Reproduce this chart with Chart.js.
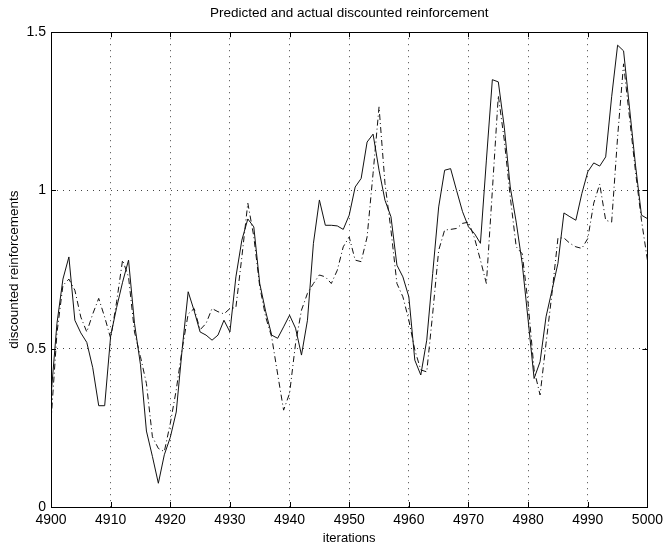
<!DOCTYPE html>
<html lang="en">
<head>
  <meta charset="UTF-8">
  <title>Predicted and actual discounted reinforcement</title>
  <script src="https://cdn.jsdelivr.net/npm/chart.js"></script>
  <style>
    body {
      background-color: #ffffff;
      margin: 0;
      padding: 0;
    }
    canvas { display: block; }
  </style>
</head>
<body>

<canvas id="reinfChart" width="668" height="550"></canvas>

<script>
  // iterations 4900..5000, one sample per iteration
  const firstIteration = 4900;
  const xTicks = [4900, 4910, 4920, 4930, 4940, 4950, 4960, 4970, 4980, 4990, 5000];
  const yTicks = [0, 0.5, 1, 1.5];

  // solid line
  const actual = [
    0.35, 0.58, 0.72, 0.79, 0.59, 0.55, 0.52, 0.44, 0.32, 0.32,
    0.54, 0.63, 0.71, 0.78, 0.58, 0.45, 0.24, 0.16, 0.075, 0.165,
    0.22, 0.30, 0.50, 0.68, 0.62, 0.553, 0.543, 0.527, 0.543, 0.59,
    0.553, 0.727, 0.843, 0.91, 0.885, 0.706, 0.617, 0.543, 0.533, 0.569,
    0.606, 0.565, 0.48, 0.59, 0.833, 0.97, 0.89, 0.89, 0.888, 0.877,
    0.922, 1.011, 1.038, 1.153, 1.178, 1.064, 0.969, 0.917, 0.764, 0.727,
    0.664, 0.464, 0.417, 0.527, 0.738, 0.948, 1.064, 1.069, 1.0, 0.933,
    0.885, 0.864, 0.833, 1.096, 1.35, 1.343, 1.2, 1.011, 0.9, 0.77,
    0.59, 0.406, 0.459, 0.601, 0.685, 0.77, 0.929, 0.917, 0.906, 0.99,
    1.059, 1.087, 1.077, 1.106, 1.296, 1.459, 1.441, 1.26, 1.08, 0.922,
    0.911
  ];

  // dash-dot line
  const predicted = [
    0.27, 0.55, 0.70, 0.72, 0.685, 0.60, 0.553, 0.61, 0.659, 0.60,
    0.533, 0.648, 0.78, 0.727, 0.553, 0.475, 0.39, 0.222, 0.185, 0.175,
    0.264, 0.37, 0.50, 0.61, 0.627, 0.56, 0.58, 0.627, 0.617, 0.61,
    0.627, 0.63, 0.79, 0.96, 0.855, 0.696, 0.60, 0.537, 0.42, 0.306,
    0.359, 0.516, 0.622, 0.675, 0.706, 0.733, 0.727, 0.706, 0.748, 0.822,
    0.853, 0.78, 0.775, 0.853, 1.054, 1.264, 1.022, 0.875, 0.706, 0.664,
    0.59, 0.496, 0.433, 0.427, 0.612, 0.811, 0.875, 0.877, 0.88, 0.896,
    0.9, 0.85, 0.78, 0.706, 1.0, 1.3, 1.159, 0.98, 0.822, 0.8,
    0.643, 0.433, 0.354, 0.517, 0.675, 0.85, 0.85, 0.833, 0.822, 0.817,
    0.848, 0.96, 1.02, 0.906, 0.9, 1.169, 1.4, 1.23, 1.06, 0.906,
    0.78
  ];

  const iterations = actual.map((_, i) => firstIteration + i);
  const toPoints = ys => ys.map((y, i) => ({ x: iterations[i], y }));

  const FONT = "'Liberation Sans', Arial, Helvetica, sans-serif";

  // matlab-like box with inward tick marks
  const framePlugin = {
    id: 'frame',
    afterDraw(chart) {
      const ctx = chart.ctx;
      const a = chart.chartArea;
      const xs = chart.scales.x, ys = chart.scales.y;
      const len = 5;
      ctx.save();
      ctx.strokeStyle = '#000';
      ctx.lineWidth = 1;
      ctx.strokeRect(Math.round(a.left) + 0.5, Math.round(a.top) + 0.5,
        Math.round(a.right - a.left), Math.round(a.bottom - a.top));
      ctx.beginPath();
      xTicks.forEach(v => {
        const px = Math.round(xs.getPixelForValue(v)) + 0.5;
        ctx.moveTo(px, a.bottom); ctx.lineTo(px, a.bottom - len);
        ctx.moveTo(px, a.top); ctx.lineTo(px, a.top + len);
      });
      yTicks.forEach(v => {
        const py = Math.round(ys.getPixelForValue(v)) + 0.5;
        ctx.moveTo(a.left, py); ctx.lineTo(a.left + len, py);
        ctx.moveTo(a.right, py); ctx.lineTo(a.right - len, py);
      });
      ctx.stroke();
      ctx.restore();
    }
  };

  new Chart(document.getElementById('reinfChart').getContext('2d'), {
    type: 'line',
    data: {
      datasets: [
        {
          label: 'actual',
          data: toPoints(actual),
          borderColor: '#111',
          borderWidth: 1,
          pointRadius: 0,
          tension: 0
        },
        {
          label: 'predicted',
          data: toPoints(predicted),
          borderColor: '#111',
          borderWidth: 1,
          borderDash: [6, 3, 1, 3],
          pointRadius: 0,
          tension: 0
        }
      ]
    },
    options: {
      responsive: false,
      animation: false,
      layout: { padding: { left: 0, right: 17, top: 0, bottom: 0 } },
      plugins: {
        legend: { display: false },
        tooltip: { enabled: false },
        title: {
          display: true,
          text: 'Predicted and actual discounted reinforcement',
          fullSize: false,
          color: '#000',
          font: { family: FONT, size: 13.5, weight: 'normal' },
          padding: { top: 5, bottom: 11 }
        }
      },
      scales: {
        x: {
          type: 'linear',
          min: 4900,
          max: 5000,
          afterBuildTicks: scale => { scale.ticks = xTicks.map(v => ({ value: v })); },
          afterFit: scale => { scale.height = 43; },
          ticks: {
            color: '#000',
            padding: 5,
            maxRotation: 0,
            font: { family: FONT, size: 14 },
            callback: v => String(v)
          },
          grid: { color: '#444', drawTicks: false },
          border: { display: false, dash: [1, 5] },
          title: {
            display: true,
            text: 'iterations',
            color: '#000',
            font: { family: FONT, size: 13 },
            padding: { top: 0, bottom: 4 }
          }
        },
        y: {
          min: 0,
          max: 1.5,
          afterBuildTicks: scale => { scale.ticks = yTicks.map(v => ({ value: v })); },
          afterFit: scale => { scale.width = 51; },
          ticks: {
            color: '#000',
            padding: 5,
            font: { family: FONT, size: 14 },
            callback: v => String(v)
          },
          grid: { color: '#444', drawTicks: false },
          border: { display: false, dash: [1, 5] },
          title: {
            display: true,
            text: 'discounted reinforcements',
            color: '#000',
            font: { family: FONT, size: 13.5 },
            padding: { top: 6, bottom: 6 }
          }
        }
      }
    },
    plugins: [framePlugin]
  });
</script>

</body>
</html>
